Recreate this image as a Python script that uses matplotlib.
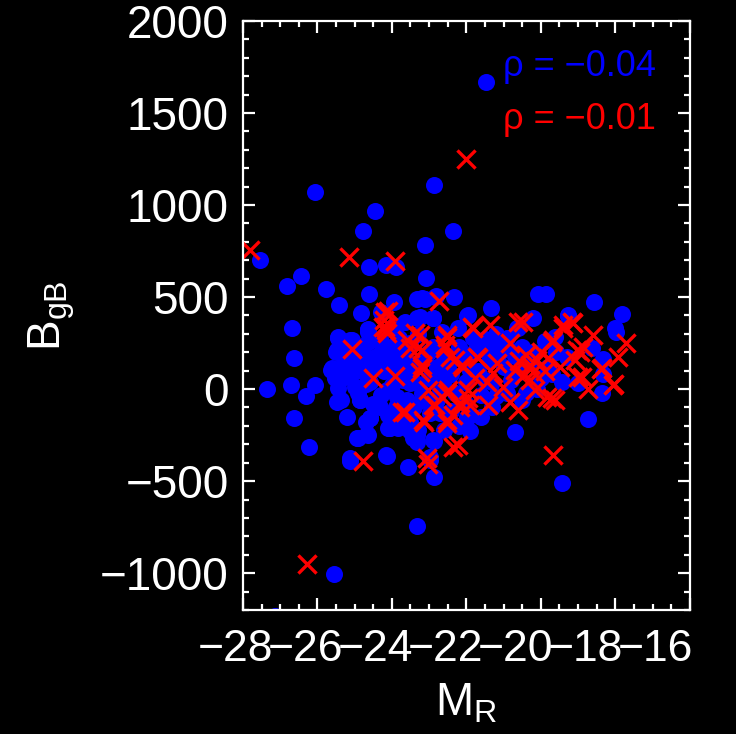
import numpy as np
import matplotlib
matplotlib.use("Agg")
import matplotlib.pyplot as plt
from matplotlib.ticker import MultipleLocator
from matplotlib.transforms import ScaledTranslation

# --- data (M_R, B_gB) ---
blue_m = [-21.48, -22.87, -26.07, -24.46, -24.78, -22.36, -23.11, -27.55, -24.62, -24.16,
          -23.90, -23.09, -26.44, -26.82, -25.77, -25.42, -24.62, -24.83, -23.95, -23.11,
          -22.82, -22.34, -24.30, -23.65, -23.33, -22.90, -21.99, -26.68, -24.64,
          -20.08, -19.87, -18.58, -21.34, -17.83, -20.22, -19.27, -18.01, -17.99, -18.34,
          -18.34, -18.36, -18.74, -19.28, -19.62, -18.63, -20.64, -20.70,
          -27.36, -26.63, -26.71, -26.30, -26.07, -26.63, -26.23,
          -23.33, -22.85,
          -25.45, -25.13, -25.50, -25.23, -25.64, -25.53, -25.45, -25.37, -25.10, -24.86,
          -24.59, -24.64, -24.91, -24.05, -23.84, -24.16, -25.13, -24.64,
          -23.33, -22.90, -22.98, -21.96,
          -19.30, -19.00, -19.44,
          -25.13, -24.94, -24.67, -24.13, -24.08, -23.83, -23.57, -23.44, -23.33, -23.52,
          -23.30, -22.98, -22.87, -22.87, -23.33, -25.56, -19.44, -27.14,
          -24.64, -25.45, -25.07, -25.48, -24.64, -25.61, -25.13, -24.59, -24.27, -23.92,
          -24.13, -23.65,
          -23.20, -21.96, -22.90, -23.25, -22.23, -21.83, -22.66, -20.62, -21.24, -20.91,
          -25.48, -24.59, -24.11, -24.86, -24.32, -23.87, -22.98, -21.99, -25.26, -24.13,
          -23.52,
          -24.00, -23.70, -23.40, -23.00, -22.70, -22.40, -22.00, -21.70, -21.40, -21.00,
          -20.60, -20.30, -20.00, -19.80, -23.80, -23.50, -22.90, -22.60, -22.20, -21.80,
          -21.50, -21.20, -20.90, -20.50, -20.20, -19.90, -19.60, -24.60, -24.30, -23.90,
          -23.60, -23.20, -22.80, -22.40, -22.00, -21.60, -21.30, -20.90, -20.50, -20.10,
          -19.70, -24.80, -24.50, -23.10, -22.50, -21.90, -22.60, -21.50, -20.70,
          # dense core
          -25.00, -24.80, -24.70, -24.40, -24.20, -24.00, -23.80, -23.60, -23.40, -23.20,
          -24.90, -24.50, -24.10, -23.70, -23.40, -25.30, -25.00, -24.30, -24.00, -23.70,
          -23.30, -23.00, -22.80, -22.60, -22.30, -22.10, -21.90, -21.60, -21.30, -21.10,
          -20.80, -20.40, -24.70, -25.20, -23.90, -23.50, -22.70, -22.20, -21.60, -21.20]
blue_b = [1670, 1110, 1071, 967, 859, 859, 783, 701, 663, 674,
          663, 603, 614, 560, 543, 457, 516, 413, 473, 489,
          505, 500, 418, 364, 386, 386, 397, 331, 326,
          516, 516, 473, 440, 408, 386, 397, 331, 310, 163,
          82, -22, -163, 402, 282, 223, 331, -232,
          0, 168, 22, -38, 22, -158, -315,
          489, 500,
          283, 266, 201, 196, 103, 60, 5, -60, 76, -60,
          -158, -250, -266, -212, -212, -359, -375, 321,
          -250, -277, -370, -152,
          174, 33, 38,
          -391, -266, -245, -364, -212, -207, -424, -266, -288, -179,
          -223, -386, -283, -478, -745, -1005, -511, -1232,
          310, 277, 266, 212, 255, 114, 92, 168, 212, 239,
          147, 168,
          495, 402, 386, 391, 331, 277, 310, 331, 223, 223,
          -71, -158, -212, -60, -98, -43, -130, -152, 65, -5,
          33,
          100, 50, 120, 60, 0, 80, 40, 100, 150, 120,
          90, 150, 60, 120, 280, 250, 230, 180, 230, 200,
          270, 300, 280, 230, 200, 260, 200, 40, -30, -100,
          -60, -20, -60, -120, -80, -30, -100, -20, -60, 0,
          80, 230, 120, 170, 130, -230, -220, 50, 180,
          150, 100, 30, 180, 100, 20, 160, 110, 40, -60,
          -20, -80, -140, -160, -100, 130, 10, 260, 200, 220,
          300, 200, 120, 50, -20, 170, 100, 220, 40, 200,
          50, -20, -180, -150, 340, -230, -130, -200, -150, -40]

red_m = [-22.00, -27.80, -25.16, -23.92, -22.74, -24.10, -24.21, -24.24,
         -20.48, -21.37, -19.17, -19.41,
         -17.72, -17.93, -18.39, -18.04, -18.74, -19.00, -18.87, -18.60, -19.14, -19.40,
         -19.68, -19.04, -19.70, -21.83,
         -25.07, -24.51, -23.92, -24.16, -24.78,
         -23.38, -23.60, -23.20, -22.52, -22.58, -21.85, -19.70, -23.20, -22.31, -22.09,
         -21.69, -21.18, -20.83, -20.70, -20.40, -20.30, -20.20, -20.10, -20.45, -23.03,
         -22.50, -22.66, -21.96, -21.77, -21.45, -21.29, -21.02, -21.42, -20.83, -20.62,
         -20.16, -19.84, -22.90, -22.17, -21.91, -23.65, -23.17, -22.52, -22.36, -22.36,
         -22.23, -23.06, -19.68,
         -18.95, -18.36, -18.07, -19.09, -19.49, -18.90, -19.62,
         -23.14, -23.03, -22.52, -26.28,
         -24.19, -24.19, -24.13, -23.52, -22.52, -23.25, -23.30, -22.58, -23.20, -22.44,
         -21.72, -22.12, -20.62,
         -23.73, -22.85, -22.52, -22.17, -21.96, -23.25,
         -20.00, -19.90, -20.30, -19.80, -20.60]
red_b = [1250, 755, 717, 696, 478, 424, 375, 337,
         364, 348, 364, 348,
         250, 174, 109, 27, 0, 65, 228, 293, 359, 331,
         266, 212, -49, 331,
         217, 60, 71, 321, -391,
         304, 266, 212, 293, 239, 337, 255, 114, 158, 120,
         168, 141, 250, 103, 185, 130, 90, 160, 76, -5,
         -5, -43, -5, 60, 38, 87, 11, -87, -71, -114,
         -5, -43, -87, -76, -87, -125, -168, -168, -141, -315,
         -304, -375, -359,
         201, 114, 22, 158, 120, 65, -60,
         -179, -408, -185, -951,
         418, 337, 304, 223, 283, 293, 223, 223, 130, 174,
         174, 130, 364,
         -125, -87, -22, -98, -49, 92,
         200, 100, 50, 170, 150]

rho_labels = ['\u03c1 = \u22120.04', '\u03c1 = \u22120.01']

# --- style ---
plt.rcParams['font.family'] = ['Liberation Sans', 'DejaVu Sans']
plt.rcParams['mathtext.fontset'] = 'custom'
plt.rcParams['mathtext.rm'] = 'Liberation Sans'
plt.rcParams['mathtext.it'] = 'Liberation Sans'
plt.rcParams['axes.unicode_minus'] = True

fig = plt.figure(figsize=(7.36, 7.34), dpi=100, facecolor='black')
ax = fig.add_axes([0.330, 0.169, 0.6073, 0.8025], facecolor='black')

ax.scatter(blue_m, blue_b, s=150, c='#0000ff', marker='o', linewidths=0, zorder=2)
ax.scatter(red_m, red_b, s=170, c='#ff0000', marker='x', linewidths=2.4, zorder=3)

ax.set_xlim(-28, -16)
ax.set_ylim(-1200, 2000)
ax.xaxis.set_major_locator(MultipleLocator(2))
ax.xaxis.set_minor_locator(MultipleLocator(0.5))
ax.yaxis.set_major_locator(MultipleLocator(500))
ax.yaxis.set_minor_locator(MultipleLocator(100))

for sp in ax.spines.values():
    sp.set_color('white')
    sp.set_linewidth(1.6)
    sp.set_zorder(5)

ax.tick_params(which='both', direction='in', colors='white', top=True, right=True,
               labelsize=33, width=1.6)
ax.tick_params(axis='x', labelsize=32)
ax.tick_params(which='major', length=8.5)
ax.tick_params(axis='x', which='major', pad=14)
ax.tick_params(axis='y', which='major', pad=10)
ax.tick_params(which='minor', length=4.5)

ax.set_xlabel(r'M$_{\mathrm{R}}$', color='white', fontsize=33, labelpad=8)
ax.set_ylabel(r'B$_{\mathrm{gB}}$', color='white', fontsize=33, labelpad=17)

fig.canvas.draw()
# the IDL labels creep left along the x axis; the top y label sits inside the box
for i, lbl in enumerate(ax.get_xticklabels()):
    dx = -3 - 4.5 * i
    lbl.set_transform(lbl.get_transform() + ScaledTranslation(dx / 100, 0, fig.dpi_scale_trans))
ylbls = ax.get_yticklabels()
ylbls[-1].set_va('top')

ax.text(0.582, 0.922, rho_labels[0], color='#0000ff', fontsize=26,
        transform=ax.transAxes, ha='left', va='center')
ax.text(0.582, 0.832, rho_labels[1], color='#ff0000', fontsize=26,
        transform=ax.transAxes, ha='left', va='center')

fig.savefig('out.png', dpi=100, facecolor='black')
